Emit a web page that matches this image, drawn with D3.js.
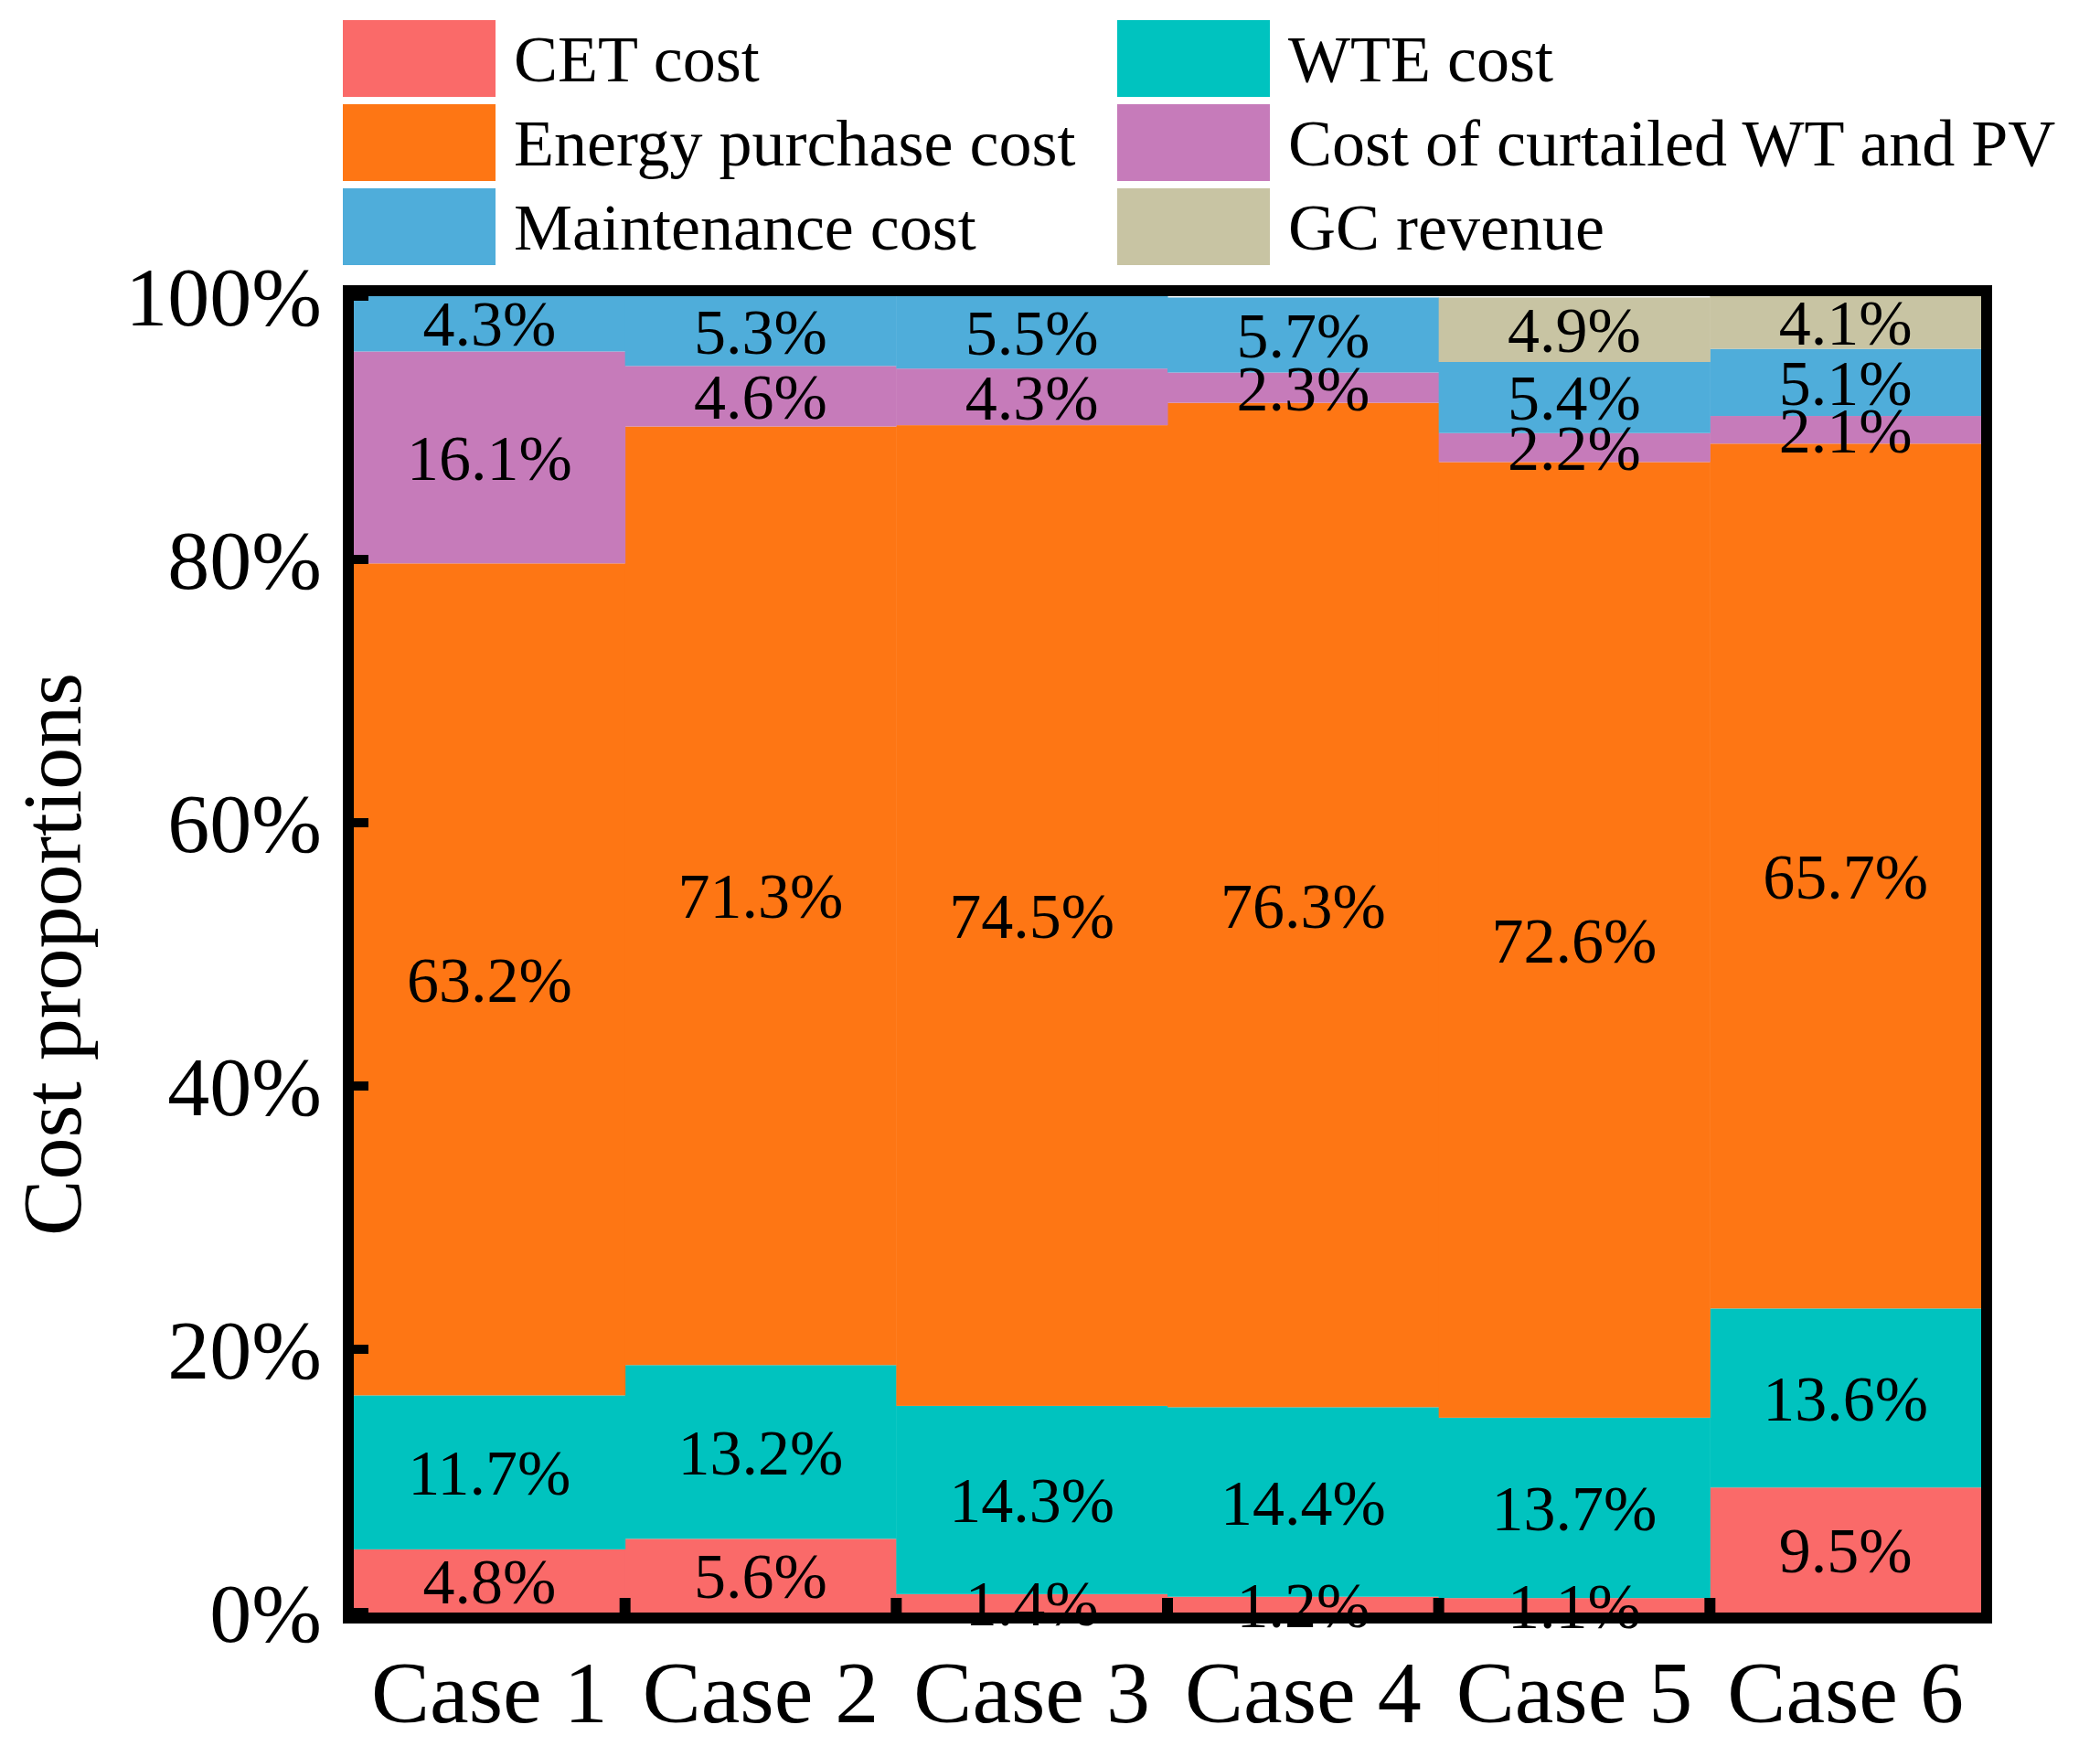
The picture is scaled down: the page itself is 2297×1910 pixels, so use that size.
<!DOCTYPE html>
<html><head><meta charset="utf-8">
<script src="https://cdn.jsdelivr.net/npm/d3@7"></script>
<style>body{margin:0;background:#fff}text{font-family:"Liberation Serif","Times New Roman",serif}</style>
</head><body><div id="chart"></div>
<script>
const cases = ["Case 1", "Case 2", "Case 3", "Case 4", "Case 5", "Case 6"];
const seriesNames = ["CET cost", "WTE cost", "Energy purchase cost", "Cost of curtailed WT and PV", "Maintenance cost", "GC revenue"];
const cetCost = [4.8, 5.6, 1.4, 1.2, 1.1, 9.5];
const wteCost = [11.7, 13.2, 14.3, 14.4, 13.7, 13.6];
const energyCost = [63.2, 71.3, 74.5, 76.3, 72.6, 65.7];
const curtailedCost = [16.1, 4.6, 4.3, 2.3, 2.2, 2.1];
const maintenanceCost = [4.3, 5.3, 5.5, 5.7, 5.4, 5.1];
const gcRevenue = [0, 0, 0, 0, 4.9, 4.1];
const yTicks = [0, 20, 40, 60, 80, 100];

const colors = {
  "CET cost": "#fa6a69",
  "WTE cost": "#00c3bf",
  "Energy purchase cost": "#fe7614",
  "Cost of curtailed WT and PV": "#c67bba",
  "Maintenance cost": "#4fadda",
  "GC revenue": "#c8c4a3",
};

const W = 2297, H = 1910;
const margin = { top: 324, right: 130, bottom: 146, left: 387 };
const width = W - margin.left - margin.right;
const height = H - margin.top - margin.bottom;

const svg = d3.select("#chart").append("svg").attr("width", W).attr("height", H);
const g = svg.append("g").attr("transform", `translate(${margin.left},${margin.top})`);

const table = cases.map((c, i) => ({
  case: c,
  "CET cost": cetCost[i],
  "WTE cost": wteCost[i],
  "Energy purchase cost": energyCost[i],
  "Cost of curtailed WT and PV": curtailedCost[i],
  "Maintenance cost": maintenanceCost[i],
  "GC revenue": gcRevenue[i],
}));
const stacked = d3.stack().keys(seriesNames)(table);

const x = d3.scaleBand().domain(cases).range([0, width]).padding(0);
const y = d3.scaleLinear().domain([0, 100]).range([height, 0]);
const yc = (v) => y(Math.min(v, 100));

/* ---------- Bars ---------- */
stacked.forEach((layer) => {
  g.selectAll(null)
    .data(layer)
    .enter()
    .append("rect")
    .attr("x", (d) => x(d.data.case))
    .attr("width", x.bandwidth() + 0.5)
    .attr("y", (d) => yc(d[1]))
    .attr("height", (d) => Math.max(0, yc(d[0]) - yc(d[1])))
    .attr("fill", colors[layer.key]);
});

/* ---------- Labels ---------- */
stacked.forEach((layer) => {
  g.selectAll(null)
    .data(layer.filter((d) => d[1] - d[0] > 0))
    .enter()
    .append("text")
    .attr("x", (d) => x(d.data.case) + x.bandwidth() / 2)
    .attr("y", (d) => yc((d[0] + d[1]) / 2))
    .attr("dy", "0.35em")
    .attr("text-anchor", "middle")
    .attr("font-size", 70)
    .text((d) => (d[1] - d[0]).toFixed(1) + "%");
});

/* ---------- Axes ---------- */
g.append("rect").attr("x", -6).attr("y", -6).attr("width", width + 12).attr("height", height + 12)
  .attr("fill", "none").attr("stroke", "#000").attr("stroke-width", 12);

g.selectAll(".ytick").data(yTicks).enter().append("line")
  .attr("x1", 0).attr("x2", 16).attr("y1", (d) => y(d)).attr("y2", (d) => y(d))
  .attr("stroke", "#000").attr("stroke-width", 10);
g.selectAll(".ylab").data(yTicks).enter().append("text")
  .attr("x", -35).attr("y", (d) => y(d)).attr("dy", "0.35em")
  .attr("text-anchor", "end").attr("font-size", 92).text((d) => d + "%");

g.selectAll(".xtick").data(cases.slice(1)).enter().append("line")
  .attr("x1", (d) => x(d)).attr("x2", (d) => x(d)).attr("y1", height).attr("y2", height - 16)
  .attr("stroke", "#000").attr("stroke-width", 12);
g.selectAll(".xlab").data(cases).enter().append("text")
  .attr("x", (d) => x(d) + x.bandwidth() / 2).attr("y", height + 120)
  .attr("text-anchor", "middle").attr("font-size", 96).text((d) => d);

svg.append("text")
  .attr("transform", "rotate(-90)")
  .attr("x", -(margin.top + height / 2)).attr("y", 88)
  .attr("text-anchor", "middle").attr("font-size", 92).text("Cost proportions");

/* ---------- Legend ---------- */
const legendOrder = ["CET cost", "WTE cost", "Energy purchase cost", "Cost of curtailed WT and PV", "Maintenance cost", "GC revenue"];
const leg = svg.selectAll(".leg").data(legendOrder).enter().append("g")
  .attr("transform", (d, i) => `translate(${i % 2 ? 1222 : 375},${22 + Math.floor(i / 2) * 92})`);
leg.append("rect").attr("width", 167).attr("height", 84).attr("fill", (d) => colors[d]);
leg.append("text").attr("x", 187).attr("y", 42).attr("dy", "0.35em")
  .attr("font-size", 72).text((d) => d);
</script></body></html>
